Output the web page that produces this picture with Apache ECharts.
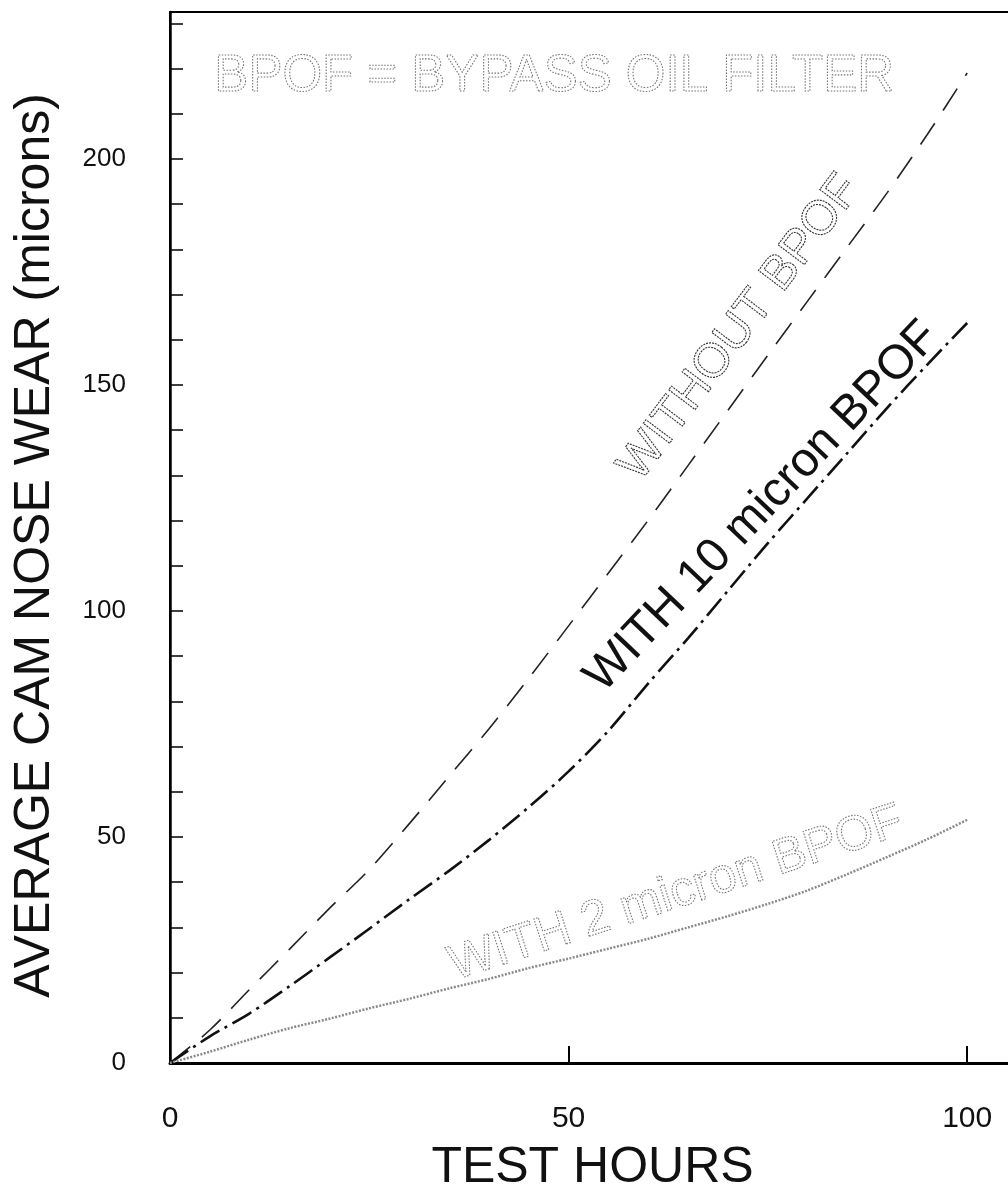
<!DOCTYPE html>
<html><head><meta charset="utf-8">
<script src="https://cdn.jsdelivr.net/npm/echarts@6/dist/echarts.min.js"></script>
<style>html,body{margin:0;padding:0;background:#fff}#c{width:1008px;height:1191px}</style>
</head><body><div id="c"></div>
<script>
// ---- data ----
const hours        = [0, 5, 10, 15, 20, 25, 30, 35, 40, 45, 50, 55, 60, 65, 70, 75, 80, 85, 90, 95, 100];
const withoutBpof  = [0, 7.3, 16.3, 25.2, 34.2, 42.8, 52.9, 63.4, 73.9, 85.1, 96.7, 108.4, 120.1, 132.2, 144.4, 156.6, 168.6, 180.6, 192.6, 205.4, 219];
const with10Micron = [0, 5.9, 11.0, 17.0, 23.3, 29.7, 36.2, 42.5, 49.3, 56.6, 64.5, 73.5, 84, 94, 104.5, 115, 125, 135, 145, 154.5, 163.7];
const with2Micron  = [0, 2.5, 5.2, 7.7, 9.8, 12.1, 14.2, 16.5, 18.6, 21.0, 23.1, 25.3, 27.5, 30, 32.5, 35.2, 38.2, 41.8, 45.6, 49.5, 53.8];
const seriesNames  = ['WITHOUT BPOF', 'WITH 10 micron BPOF', 'WITH 2 micron BPOF'];
const yTickLabels  = [0, 50, 100, 150, 200];
const xTickLabels  = [0, 50, 100];
const xTitle = 'TEST HOURS';
const yTitle = 'AVERAGE CAM NOSE WEAR (microns)';
const noteText = 'BPOF = BYPASS OIL FILTER';

// ---- layout / style ----
const FONT = '"Liberation Sans", Arial, Helvetica, sans-serif';
const labelAnchors = [[71.5, 162.6], [74.3, 123.0], [63.5, 37.4]];
const labelAngles = [53, 46.5, 18];
const labelSizes = [48, 48, 49];
const noteAnchor = [48.2, 218.1];

function pairs(ys) { return hours.map((h, i) => [h, ys[i]]); }

const chart = echarts.init(document.getElementById('c'), null, {renderer: 'canvas'});
chart.setOption({
  animation: false,
  backgroundColor: '#fff',
  grid: {left: 170, top: 12, width: 845, height: 1051, show: true, borderColor: '#000', borderWidth: 2,
         containLabel: false, outerBoundsMode: 'none'},
  xAxis: {
    type: 'value', min: 0, max: 106, interval: 50,
    axisLine: {lineStyle: {color: '#000', width: 3}},
    axisTick: {inside: true, length: 17, lineStyle: {color: '#000', width: 2}},
    axisLabel: {fontFamily: FONT, fontSize: 30, color: '#111', margin: 41, showMaxLabel: false,
      formatter: v => xTickLabels.includes(v) ? String(v) : ''},
    splitLine: {show: false},
    name: xTitle, nameLocation: 'middle', nameGap: 80,
    nameTextStyle: {fontFamily: FONT, fontSize: 50, color: '#111'}
  },
  yAxis: {
    type: 'value', min: 0, max: 232.5, interval: 10,
    axisLine: {lineStyle: {color: '#000', width: 2.5}},
    axisTick: {inside: true, length: 13, lineStyle: {color: '#000', width: 1.5}},
    axisLabel: {fontFamily: FONT, fontSize: 26, color: '#111', margin: 44, showMaxLabel: false,
      formatter: v => yTickLabels.includes(v) ? String(v) : ''},
    splitLine: {show: false},
    name: yTitle, nameLocation: 'middle', nameGap: 110, nameRotate: 90,
    nameTextStyle: {fontFamily: FONT, fontSize: 50, color: '#111', padding: [0, 16, 0, 0]}
  },
  series: [
    {name: seriesNames[0], type: 'line', data: pairs(withoutBpof), smooth: 0.3, symbol: 'none',
     lineStyle: {color: '#222', width: 1.6, type: [26, 15]}},
    {name: seriesNames[1], type: 'line', data: pairs(with10Micron), smooth: 0.3, symbol: 'none',
     lineStyle: {color: '#111', width: 2.6, type: [22, 6, 3, 6]}},
    {name: seriesNames[2], type: 'line', data: pairs(with2Micron), smooth: 0.3, symbol: 'none',
     lineStyle: {color: '#8a8a8a', width: 2.5, type: [2, 1.5]}}
  ]
});

function px(p) { return chart.convertToPixel({gridIndex: 0}, p); }
const labelStyles = [
  {fill: 'transparent', stroke: '#333', lineWidth: 1.1, lineDash: [2, 1]},
  {fill: '#111', stroke: null, lineWidth: 0},
  {fill: 'transparent', stroke: '#777', lineWidth: 1.1, lineDash: [1.5, 1.5]}
];
const graphics = seriesNames.map((t, i) => {
  const p = px(labelAnchors[i]);
  return {type: 'text', x: p[0], y: p[1], rotation: labelAngles[i] * Math.PI / 180,
    style: Object.assign({text: t, font: labelSizes[i] + 'px ' + FONT, align: 'center', verticalAlign: 'middle'}, labelStyles[i]),
    z: 10};
});
const np = px(noteAnchor);
graphics.push({type: 'text', x: np[0], y: np[1],
  style: {text: noteText, font: '51px ' + FONT, fill: 'transparent', stroke: '#777', lineWidth: 1.1, lineDash: [1.5, 1.5],
    align: 'center', verticalAlign: 'middle'}, z: 10});
chart.setOption({graphic: graphics});
</script>
</body></html>
